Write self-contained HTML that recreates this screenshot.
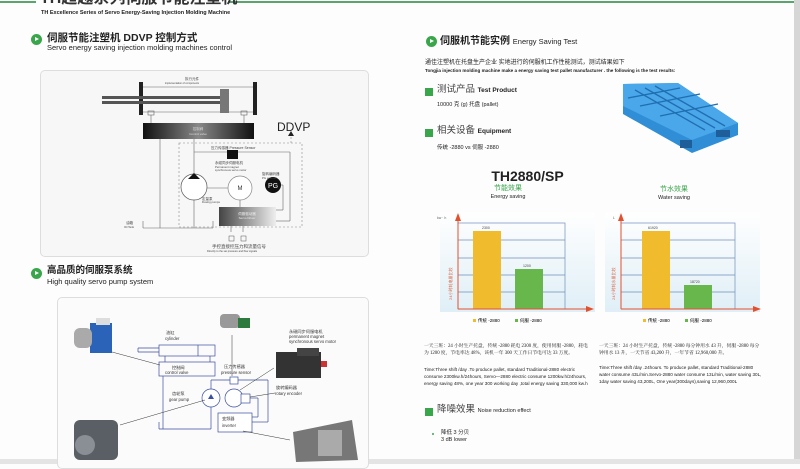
<!DOCTYPE html>
<html><head><meta charset="utf-8"><style>
html,body{margin:0;padding:0;}
body{width:800px;height:464px;overflow:hidden;background:#fdfdfd;position:relative;font-family:"Liberation Sans","Noto Sans CJK SC",sans-serif;color:#222;}
.a{position:absolute;white-space:nowrap;line-height:1.15;}
.dot{position:absolute;width:11px;height:11px;border-radius:50%;background:#3aa64c;}
.dot:after{content:"";position:absolute;left:4px;top:3px;border-left:4px solid #fff;border-top:2.5px solid transparent;border-bottom:2.5px solid transparent;}
.sq{position:absolute;width:8px;height:8px;background:#3aa64c;}
</style></head><body>
<!-- header -->
<div class="a" style="left:0;top:1px;width:36px;height:2px;background:#5aa46e"></div>
<div class="a" style="left:228px;top:1px;width:566px;height:2px;background:#5aa46e"></div>
<div class="a" style="left:40px;top:-9px;font-size:16px;line-height:16px;font-weight:bold;color:#333">TH超越系列伺服节能注塑机</div>
<div class="a" style="left:41px;top:10px;font-size:5.5px;font-weight:bold">TH Excellence Series of Servo Energy-Saving Injection Molding Machine</div>
<div class="a" style="left:794px;top:0;width:6px;height:464px;background:#d6d6d6"></div>
<div class="a" style="left:0;top:459px;width:800px;height:5px;background:#e4e4e4"></div>

<!-- left section 1 -->
<div class="dot" style="left:31px;top:34px"></div>
<div class="a" style="left:47px;top:32px;font-size:10.5px;font-weight:bold">伺服节能注塑机 DDVP 控制方式</div>
<div class="a" style="left:47px;top:44px;font-size:7.5px">Servo energy saving injection molding machines control</div>
<div class="a" style="left:40px;top:70px;width:327px;height:185px;border:1px solid #ddd;border-radius:5px;background:#f7f7f7"></div>
<svg class="a" style="left:0;top:0" width="400" height="464">
<g stroke="#666" stroke-width="0.6" fill="none">
<line x1="141" y1="87" x2="255" y2="87"/><line x1="141" y1="112" x2="255" y2="112"/>
<rect x="148" y="111" width="6" height="4" /><rect x="241" y="111" width="6" height="4"/>
<line x1="151" y1="115" x2="151" y2="123"/><line x1="244" y1="115" x2="244" y2="123"/>
<line x1="194" y1="139" x2="194" y2="228"/><line x1="160" y1="139" x2="160" y2="228"/>
<line x1="143" y1="221" x2="143" y2="228"/><line x1="143" y1="228" x2="213" y2="228"/><line x1="213" y1="221" x2="213" y2="228"/>
<line x1="194" y1="152" x2="290" y2="152"/><line x1="290" y1="152" x2="290" y2="221"/><line x1="276" y1="221" x2="290" y2="221"/>
<line x1="280" y1="185" x2="283" y2="185"/><line x1="283" y1="185" x2="283" y2="210"/><line x1="276" y1="210" x2="283" y2="210"/>
<line x1="207" y1="188" x2="228" y2="188"/><line x1="240" y1="200" x2="240" y2="207"/>
<line x1="231" y1="226" x2="231" y2="232"/><line x1="243" y1="226" x2="243" y2="232"/>
</g>
<rect x="179" y="143" width="123" height="84" fill="none" stroke="#888" stroke-width="0.6" stroke-dasharray="2,2"/>
<line x1="291" y1="143" x2="291" y2="134" stroke="#888" stroke-width="0.6" stroke-dasharray="2,2"/>
<polygon points="288,136 294,136 291,131" fill="#222"/>
<rect x="139" y="82" width="4" height="33" fill="#222"/><rect x="253" y="82" width="4" height="33" fill="#222"/>
<rect x="102" y="96" width="120" height="3" fill="#555"/><rect x="102" y="101" width="120" height="3" fill="#555"/>
<rect x="220" y="89" width="9" height="24" fill="#777"/>
<defs><linearGradient id="g1" x1="0" x2="1"><stop offset="0" stop-color="#111"/><stop offset=".5" stop-color="#888"/><stop offset="1" stop-color="#111"/></linearGradient>
<linearGradient id="g2" x1="0" x2="1"><stop offset="0" stop-color="#444"/><stop offset="1" stop-color="#eee"/></linearGradient></defs>
<rect x="143" y="123" width="111" height="16" fill="url(#g1)"/>
<text x="198" y="130" font-size="3.5" fill="#ddd" text-anchor="middle">控制阀</text>
<text x="198" y="135" font-size="3" fill="#ddd" text-anchor="middle">Control valve</text>
<text x="277" y="131" font-size="12" fill="#222" font-family="Liberation Sans">DDVP</text>
<rect x="227" y="150" width="11" height="9" fill="#111"/>
<circle cx="194" cy="187" r="13" fill="#fff" stroke="#555" stroke-width="0.7"/>
<polygon points="188,179 200,179 194,173" fill="#111"/>
<circle cx="240" cy="188" r="12" fill="#fff" stroke="#888" stroke-width="0.7"/>
<text x="240" y="190" font-size="6" text-anchor="middle" fill="#333">M</text>
<circle cx="273" cy="185" r="8" fill="#111"/>
<text x="273" y="188" font-size="7" text-anchor="middle" fill="#fff">PG</text>
<rect x="219" y="207" width="57" height="19" fill="url(#g2)"/>
<text x="247" y="215" font-size="3.5" fill="#eee" text-anchor="middle">伺服驱动器</text>
<text x="247" y="219" font-size="3" fill="#eee" text-anchor="middle">Servo Driver</text>
<g font-size="3.5" fill="#444">
<text x="185" y="80">执行元件</text><text x="165" y="84" font-size="2.5">implementation of components</text>
<text x="211" y="149">压力传感器 Pressure Sensor</text>
<text x="215" y="164">永磁同步伺服电机</text><text x="215" y="168" font-size="2.8">Permanent magnet</text><text x="215" y="171" font-size="2.8">synchronous servo motor</text>
<text x="262" y="175">旋转编码器</text><text x="262" y="179" font-size="2.8">PG encoder</text>
<text x="202" y="200">定量泵</text><text x="202" y="203" font-size="2.8">Dosing pumps</text>
<text x="126" y="224">油箱</text><text x="124" y="228" font-size="2.8">Oil Tank</text>
<text x="212" y="248" font-size="4.5">手控直接控压力和流量信号</text>
<text x="207" y="252" font-size="2.6">Directly to the set pressure and flow signals</text>
</g>
<rect x="229" y="236" width="5" height="5" fill="none" stroke="#555" stroke-width="0.5"/><rect x="241" y="236" width="5" height="5" fill="none" stroke="#555" stroke-width="0.5"/>
</svg>

<!-- left section 2 -->
<div class="dot" style="left:31px;top:268px"></div>
<div class="a" style="left:47px;top:266px;font-size:9.5px;font-weight:bold">高品质的伺服泵系统</div>
<div class="a" style="left:47px;top:278px;font-size:7.5px">High quality servo pump system</div>
<div class="a" style="left:57px;top:297px;width:310px;height:170px;border:1px solid #ddd;border-radius:5px;background:#fbfbfb"></div>
<svg class="a" style="left:0;top:0" width="400" height="464">
<g stroke="#3b4fa0" stroke-width="0.7" fill="none">
<rect x="159" y="345" width="56" height="11"/><line x1="138" y1="348" x2="159" y2="348"/><line x1="138" y1="352" x2="159" y2="352"/><line x1="138" y1="348" x2="138" y2="352"/>
<line x1="198" y1="345" x2="198" y2="356"/>
<line x1="165" y1="356" x2="165" y2="362"/><line x1="210" y1="356" x2="210" y2="362"/>
<rect x="159" y="362" width="56" height="14"/>
<line x1="163" y1="376" x2="163" y2="429"/><line x1="159" y1="429" x2="211" y2="429"/><line x1="159" y1="422" x2="159" y2="429"/><line x1="211" y1="407" x2="211" y2="429"/>
<line x1="211" y1="389" x2="211" y2="380"/><line x1="211" y1="380" x2="268" y2="380"/>
<rect x="230" y="377" width="8" height="7" fill="#fff"/>
<circle cx="211" cy="398" r="9" fill="#fff"/><circle cx="234" cy="398" r="9" fill="#fff"/>
<rect x="241" y="394" width="9" height="9" fill="#fff"/>
<line x1="250" y1="398" x2="258" y2="398"/><line x1="258" y1="398" x2="258" y2="417"/><line x1="252" y1="417" x2="258" y2="417"/>
<line x1="268" y1="380" x2="268" y2="422"/><line x1="252" y1="422" x2="268" y2="422"/>
<rect x="218" y="413" width="34" height="19" fill="#fff"/>
</g>
<polygon points="208,399 214,399 211,394" fill="#3b4fa0"/>
<g stroke="#333" stroke-width="0.5">
<line x1="112" y1="352" x2="160" y2="365"/><line x1="232" y1="335" x2="232" y2="376"/>
<line x1="240" y1="390" x2="274" y2="368"/><line x1="250" y1="397" x2="275" y2="393"/>
<line x1="120" y1="425" x2="205" y2="400"/><line x1="290" y1="440" x2="243" y2="431"/>
</g>
<rect x="90" y="323" width="22" height="30" fill="#2a63b8"/><rect x="74" y="328" width="18" height="20" rx="6" fill="#aaa"/><rect x="96" y="318" width="14" height="7" fill="#ddd"/>
<rect x="220" y="314" width="20" height="14" rx="4" fill="#999"/><rect x="238" y="318" width="12" height="10" fill="#2c7a3e"/>
<rect x="276" y="352" width="45" height="26" fill="#333"/><rect x="297" y="348" width="22" height="8" fill="#444"/><rect x="321" y="361" width="6" height="6" fill="#c33"/>
<rect x="74" y="420" width="44" height="40" rx="6" fill="#5a5f66"/><circle cx="85" cy="445" r="10" fill="#8a8f96"/>
<polygon points="293,432 352,420 358,460 296,462" fill="#777"/><rect x="318" y="430" width="24" height="26" fill="#aaa"/>
<g font-size="4.2" fill="#333">
<text x="166" y="334">油缸</text><text x="165" y="340">cylinder</text>
<text x="172" y="369">控制阀</text><text x="165" y="374">control valve</text>
<text x="224" y="368">压力传感器</text><text x="221" y="374">pressure sensor</text>
<text x="172" y="395">齿轮泵</text><text x="169" y="401">gear pump</text>
<text x="276" y="389">旋转编码器</text><text x="275" y="395">rotary encoder</text>
<text x="222" y="420">变频器</text><text x="222" y="427">inverter</text>
<text x="289" y="333">永磁同步伺服电机</text><text x="289" y="338">permanent magnet</text><text x="289" y="343">synchronous servo motor</text>
</g>
</svg>

<!-- right column -->
<div class="dot" style="left:426px;top:36px"></div>
<div class="a" style="left:440px;top:36px;font-size:10px;font-weight:bold">伺服机节能实例 <span style="font-weight:normal;font-size:7.5px">Energy Saving Test</span></div>
<div class="a" style="left:425px;top:60px;font-size:6px">通佳注塑机在托盘生产企业 实地进行的伺服机工作性能测试，测试结果如下</div>
<div class="a" style="left:425px;top:68px;font-size:4.6px;font-weight:bold">Tongjia injection molding machine make a energy saving test pallet manufacturer . the following is the test results:</div>
<div class="sq" style="left:425px;top:88px"></div>
<div class="a" style="left:437px;top:85px;font-size:9.5px;color:#444">测试产品 <b style="font-size:6.5px;color:#222">Test Product</b></div>
<div class="a" style="left:437px;top:102px;font-size:5.5px">10000 克 (g) 托盘 (pallet)</div>
<div class="sq" style="left:425px;top:129px"></div>
<div class="a" style="left:437px;top:126px;font-size:9.5px;color:#444">相关设备 <b style="font-size:6.5px;color:#222">Equipment</b></div>
<div class="a" style="left:437px;top:145px;font-size:5.5px">传统 -2880 vs 伺服 -2880</div>
<svg class="a" style="left:620px;top:80px" width="120" height="75">
<polygon points="3,4 58,3 118,43 118,55 72,73 3,34" fill="#2f8ed6"/>
<polygon points="3,4 58,3 118,43 72,60 3,26" fill="#4aa7ea"/>
<g stroke="#1f6fb0" stroke-width="1.3"><line x1="15" y1="10" x2="85" y2="50"/><line x1="25" y1="8" x2="95" y2="48"/><line x1="35" y1="6" x2="105" y2="46"/><line x1="8" y1="18" x2="60" y2="8"/><line x1="20" y1="26" x2="80" y2="14"/><line x1="40" y1="36" x2="98" y2="24"/></g>
<rect x="60" y="60" width="12" height="8" fill="#1f5f99"/><rect x="96" y="50" width="14" height="7" fill="#1f5f99"/>
</svg>
<div class="a" style="left:480px;top:168px;width:95px;text-align:center;font-size:14px;font-weight:bold">TH2880/SP</div>
<div class="a" style="left:468px;top:185px;width:80px;text-align:center;font-size:7px;color:#3aa64c">节能效果</div>
<div class="a" style="left:468px;top:194px;width:80px;text-align:center;font-size:5.5px">Energy saving</div>
<div class="a" style="left:634px;top:186px;width:80px;text-align:center;font-size:7px;color:#3aa64c">节水效果</div>
<div class="a" style="left:634px;top:195px;width:80px;text-align:center;font-size:5.5px">Water saving</div>
<svg class="a" style="left:0;top:0" width="800" height="464">
<defs><linearGradient id="bg" x1="0" x2="0" y1="0" y2="1"><stop offset="0" stop-color="#fff"/><stop offset="1" stop-color="#d8ebf5"/></linearGradient></defs>
<g>
<rect x="440" y="212" width="155" height="100" fill="url(#bg)" opacity=".8"/>
<rect x="458" y="223" width="107" height="86" fill="none" stroke="#6f8fb8" stroke-width="0.7"/>
<g stroke="#6f8fb8" stroke-width="0.7"><line x1="458" y1="240" x2="565" y2="240"/><line x1="458" y1="258" x2="565" y2="258"/><line x1="458" y1="275" x2="565" y2="275"/><line x1="458" y1="292" x2="565" y2="292"/></g>
<rect x="473" y="231" width="28" height="78" fill="#f0bc2e"/><rect x="515" y="269" width="28" height="40" fill="#67b74d"/>
<line x1="458" y1="309" x2="588" y2="309" stroke="#e2502e" stroke-width="1"/><polygon points="586,306 594,309 586,312" fill="#e2502e"/>
<line x1="458" y1="309" x2="458" y2="220" stroke="#e2502e" stroke-width="1"/><polygon points="455,221 458,213 461,221" fill="#e2502e"/>
<text x="437" y="219" font-size="3.5" fill="#666">kw · h</text>
<text x="482" y="229" font-size="3.5" fill="#444">2300</text><text x="523" y="267" font-size="3.5" fill="#444">1200</text>
<rect x="473" y="319" width="3" height="3" fill="#f0bc2e"/><text x="478" y="322" font-size="4.5">传统 -2880</text>
<rect x="515" y="319" width="3" height="3" fill="#67b74d"/><text x="520" y="322" font-size="4.5">伺服 -2880</text>
<text transform="translate(452,300) rotate(-90)" font-size="4" fill="#d8694a">24小时耗电量比较</text>
</g>
<g>
<rect x="605" y="212" width="155" height="100" fill="url(#bg)" opacity=".8"/>
<rect x="621" y="223" width="114" height="86" fill="none" stroke="#6f8fb8" stroke-width="0.7"/>
<g stroke="#6f8fb8" stroke-width="0.7"><line x1="621" y1="240" x2="735" y2="240"/><line x1="621" y1="258" x2="735" y2="258"/><line x1="621" y1="275" x2="735" y2="275"/><line x1="621" y1="292" x2="735" y2="292"/></g>
<rect x="642" y="231" width="28" height="78" fill="#f0bc2e"/><rect x="684" y="285" width="28" height="24" fill="#67b74d"/>
<line x1="621" y1="309" x2="755" y2="309" stroke="#e2502e" stroke-width="1"/><polygon points="753,306 761,309 753,312" fill="#e2502e"/>
<line x1="621" y1="309" x2="621" y2="220" stroke="#e2502e" stroke-width="1"/><polygon points="618,221 621,213 624,221" fill="#e2502e"/>
<text x="613" y="219" font-size="3.5" fill="#666">L</text>
<text x="648" y="229" font-size="3.5" fill="#444">61920</text><text x="690" y="283" font-size="3.5" fill="#444">18720</text>
<rect x="643" y="319" width="3" height="3" fill="#f0bc2e"/><text x="648" y="322" font-size="4.5">传统 -2880</text>
<rect x="685" y="319" width="3" height="3" fill="#67b74d"/><text x="690" y="322" font-size="4.5">伺服 -2880</text>
<text transform="translate(615,300) rotate(-90)" font-size="4" fill="#d8694a">24小时耗水量比较</text>
</g>
</svg>
<div class="a" style="left:424px;top:343px;width:164px;white-space:normal;font-size:4.8px;line-height:7px;font-family:'Liberation Serif','Noto Serif CJK SC',serif">一天三班：24 小时生产托盘，传统 -2880 耗电 2300 度，使用伺服 -2880，耗电为 1200 度，节电率达 48%，该机一年 300 天工作日节电可达 33 万度。</div>
<div class="a" style="left:424px;top:366px;width:164px;white-space:normal;font-size:4.6px;line-height:7px">Time:Three shift /day .To produce pallet, standard Traditional-2880 electric consume 2300kw.h/24hours, Servo—2880 electric consume 1200kw.h/24hours, energy saving 48%, one year 300 working day ,total energy saving 330,000 kw.h</div>
<div class="a" style="left:599px;top:343px;width:163px;white-space:normal;font-size:4.8px;line-height:7px;font-family:'Liberation Serif','Noto Serif CJK SC',serif">一天三班：24 小时生产托盘，传统 -2880 每分钟用水 43 升，伺服 -2880 每分钟用水 13 升，一天节省 43,200 升，一年节省 12,960,000 升。</div>
<div class="a" style="left:599px;top:364px;width:163px;white-space:normal;font-size:4.6px;line-height:7px">Time:Three shift /day .24hours. To produce pallet, standard Traditional-2880 water consume 43L/min.Servo-2880 water consume 13L/min, water saving 30L, 1day water saving 43,200L, One year(300days),saving 12,960,000L</div>
<div class="sq" style="left:425px;top:408px"></div>
<div class="a" style="left:437px;top:405px;font-size:9.5px;color:#444">降噪效果 <span style="font-size:5.5px;color:#222">Noise reduction effect</span></div>
<div class="a" style="left:432px;top:433px;width:2px;height:2px;background:#3aa64c;border-radius:50%"></div>
<div class="a" style="left:441px;top:430px;font-size:5.5px">降低 3 分贝</div>
<div class="a" style="left:441px;top:437px;font-size:5.5px">3 dB lower</div>
</body></html>
